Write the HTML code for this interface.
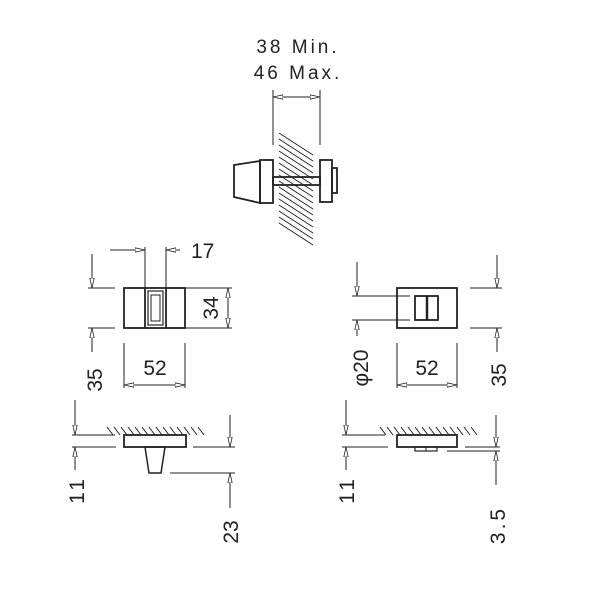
<!DOCTYPE html>
<html><head><style>
html,body{margin:0;padding:0;background:#fff}
svg{display:block}
text{font-family:"Liberation Sans",sans-serif;fill:#222}
</style></head><body>
<svg width="600" height="600" viewBox="0 0 600 600" xmlns="http://www.w3.org/2000/svg">
<defs>
<marker id="a" viewBox="0 0 10 6" refX="10" refY="3" markerWidth="10" markerHeight="6" orient="auto-start-reverse" markerUnits="userSpaceOnUse">
<path d="M0,0.8 L10,3 L0,5.2 Z" fill="#fff" stroke="#222" stroke-width="0.8"/>
</marker>
</defs>
<g stroke="#222" fill="none" stroke-width="1">
<line x1="273" y1="90" x2="273" y2="145"/>
<line x1="320" y1="90" x2="320" y2="145"/>
<line x1="273" y1="97" x2="320" y2="97" marker-start="url(#a)" marker-end="url(#a)"/>
<g>
<line x1="279" y1="133" x2="313" y2="155"/><line x1="279" y1="139" x2="313" y2="161"/>
<line x1="279" y1="145" x2="313" y2="167"/><line x1="279" y1="151" x2="313" y2="173"/>
<line x1="279" y1="157" x2="313" y2="179"/><line x1="279" y1="163" x2="313" y2="185"/>
<line x1="279" y1="169" x2="313" y2="191"/><line x1="279" y1="175" x2="313" y2="197"/>
<line x1="279" y1="181" x2="313" y2="203"/><line x1="279" y1="187" x2="313" y2="209"/>
<line x1="279" y1="193" x2="313" y2="215"/><line x1="279" y1="199" x2="313" y2="221"/>
<line x1="279" y1="205" x2="313" y2="227"/><line x1="279" y1="211" x2="313" y2="233"/>
<line x1="279" y1="217" x2="313" y2="239"/><line x1="279" y1="223" x2="313" y2="245"/>
</g>
<g stroke-width="1.8">
<polygon points="234,165 260,161 260,203 234,197"/>
<rect x="260" y="160" width="13" height="43"/>
<rect x="273" y="177" width="47" height="8"/>
<rect x="320" y="160" width="12" height="42"/>
<rect x="332" y="168" width="5" height="25"/>
</g>
<g stroke-width="1.8">
<rect x="124" y="288" width="61" height="40"/>
<line x1="145" y1="288" x2="145" y2="328"/><line x1="166" y1="288" x2="166" y2="328"/>
<rect x="148" y="291" width="15" height="34" stroke-width="1.2"/>
<rect x="151" y="295" width="9" height="26" stroke-width="1"/>
</g>
<line x1="145" y1="247" x2="145" y2="288"/><line x1="166" y1="247" x2="166" y2="288"/>
<line x1="110" y1="250" x2="145" y2="250" marker-end="url(#a)"/>
<line x1="180" y1="250" x2="166" y2="250" marker-end="url(#a)"/>
<line x1="92" y1="254" x2="92" y2="288" marker-end="url(#a)"/>
<line x1="92" y1="352" x2="92" y2="328" marker-end="url(#a)"/>
<line x1="88" y1="288" x2="115" y2="288"/><line x1="88" y1="328" x2="115" y2="328"/>
<line x1="185" y1="288" x2="232" y2="288"/><line x1="185" y1="328" x2="232" y2="328"/>
<line x1="228" y1="288" x2="228" y2="328" marker-start="url(#a)" marker-end="url(#a)"/>
<line x1="124" y1="343" x2="124" y2="388"/><line x1="185" y1="343" x2="185" y2="388"/>
<line x1="124" y1="385" x2="185" y2="385" marker-start="url(#a)" marker-end="url(#a)"/>
<g stroke-width="1.8">
<rect x="397" y="288" width="60" height="40"/>
<rect x="415" y="296" width="23" height="24"/>
<line x1="427" y1="296" x2="427" y2="320" stroke-width="2.5"/>
</g>
<line x1="352" y1="296" x2="410" y2="296"/><line x1="352" y1="320" x2="410" y2="320"/>
<line x1="357" y1="262" x2="357" y2="296" marker-end="url(#a)"/>
<line x1="357" y1="336" x2="357" y2="320" marker-end="url(#a)"/>
<line x1="470" y1="288" x2="502" y2="288"/><line x1="470" y1="328" x2="502" y2="328"/>
<line x1="497" y1="255" x2="497" y2="288" marker-end="url(#a)"/>
<line x1="497" y1="352" x2="497" y2="328" marker-end="url(#a)"/>
<line x1="397" y1="343" x2="397" y2="388"/><line x1="457" y1="343" x2="457" y2="388"/>
<line x1="397" y1="385" x2="457" y2="385" marker-start="url(#a)" marker-end="url(#a)"/>
<line x1="72" y1="435" x2="115" y2="435"/><line x1="72" y1="447" x2="116" y2="447"/>
<rect x="124" y="435" width="62" height="12" stroke-width="1.8"/>
<polygon points="145,447 165,447 161,473 149,473" stroke-width="1.5"/>
<line x1="193" y1="447" x2="235" y2="447"/>
<line x1="170" y1="473" x2="235" y2="473"/>
<line x1="75" y1="400" x2="75" y2="435" marker-end="url(#a)"/>
<line x1="75" y1="470" x2="75" y2="447" marker-end="url(#a)"/>
<line x1="230" y1="415" x2="230" y2="447" marker-end="url(#a)"/>
<line x1="230" y1="508" x2="230" y2="473" marker-end="url(#a)"/>
<path d="M107,427 l6,8 M114,427 l6,8 M121,427 l6,8 M128,427 l6,8 M135,427 l6,8 M142,427 l6,8 M149,427 l6,8 M156,427 l6,8 M163,427 l6,8 M170,427 l6,8 M177,427 l6,8 M184,427 l6,8 M191,427 l6,8 M198,427 l6,8"/>
<line x1="342" y1="435" x2="385" y2="435"/><line x1="342" y1="447" x2="388" y2="447"/>
<rect x="397" y="435" width="60" height="12" stroke-width="1.8"/>
<rect x="415" y="447" width="22" height="4" stroke-width="1.2"/>
<line x1="426" y1="447" x2="426" y2="451"/>
<line x1="465" y1="447" x2="500" y2="447"/>
<line x1="447" y1="451" x2="500" y2="451"/>
<line x1="346" y1="400" x2="346" y2="435" marker-end="url(#a)"/>
<line x1="346" y1="470" x2="346" y2="447" marker-end="url(#a)"/>
<line x1="496" y1="415" x2="496" y2="447" marker-end="url(#a)"/>
<line x1="496" y1="485" x2="496" y2="451" marker-end="url(#a)"/>
<path d="M380,427 l6,8 M387,427 l6,8 M394,427 l6,8 M401,427 l6,8 M408,427 l6,8 M415,427 l6,8 M422,427 l6,8 M429,427 l6,8 M436,427 l6,8 M443,427 l6,8 M450,427 l6,8 M457,427 l6,8 M464,427 l6,8 M471,427 l6,8"/>
</g>
<g font-size="19" letter-spacing="3">
<text x="298" y="53" text-anchor="middle">38 Min.</text>
<text x="298" y="79" text-anchor="middle">46 Max.</text>
</g>
<g font-size="21">
<text x="191" y="258">17</text>
<text x="155" y="375" text-anchor="middle">52</text>
<text x="427" y="375" text-anchor="middle">52</text>
<text transform="translate(102,380) rotate(-90)" text-anchor="middle">35</text>
<text transform="translate(218,308) rotate(-90)" text-anchor="middle">34</text>
<text transform="translate(368,368) rotate(-90)" text-anchor="middle">φ20</text>
<text transform="translate(506,375) rotate(-90)" text-anchor="middle">35</text>
<text transform="translate(84,490) rotate(-90)" text-anchor="middle" letter-spacing="3">11</text>
<text transform="translate(238,532) rotate(-90)" text-anchor="middle">23</text>
<text transform="translate(354,490) rotate(-90)" text-anchor="middle" letter-spacing="3">11</text>
<text transform="translate(505,525) rotate(-90)" text-anchor="middle" letter-spacing="3">3.5</text>
</g>
</svg>
</body></html>
